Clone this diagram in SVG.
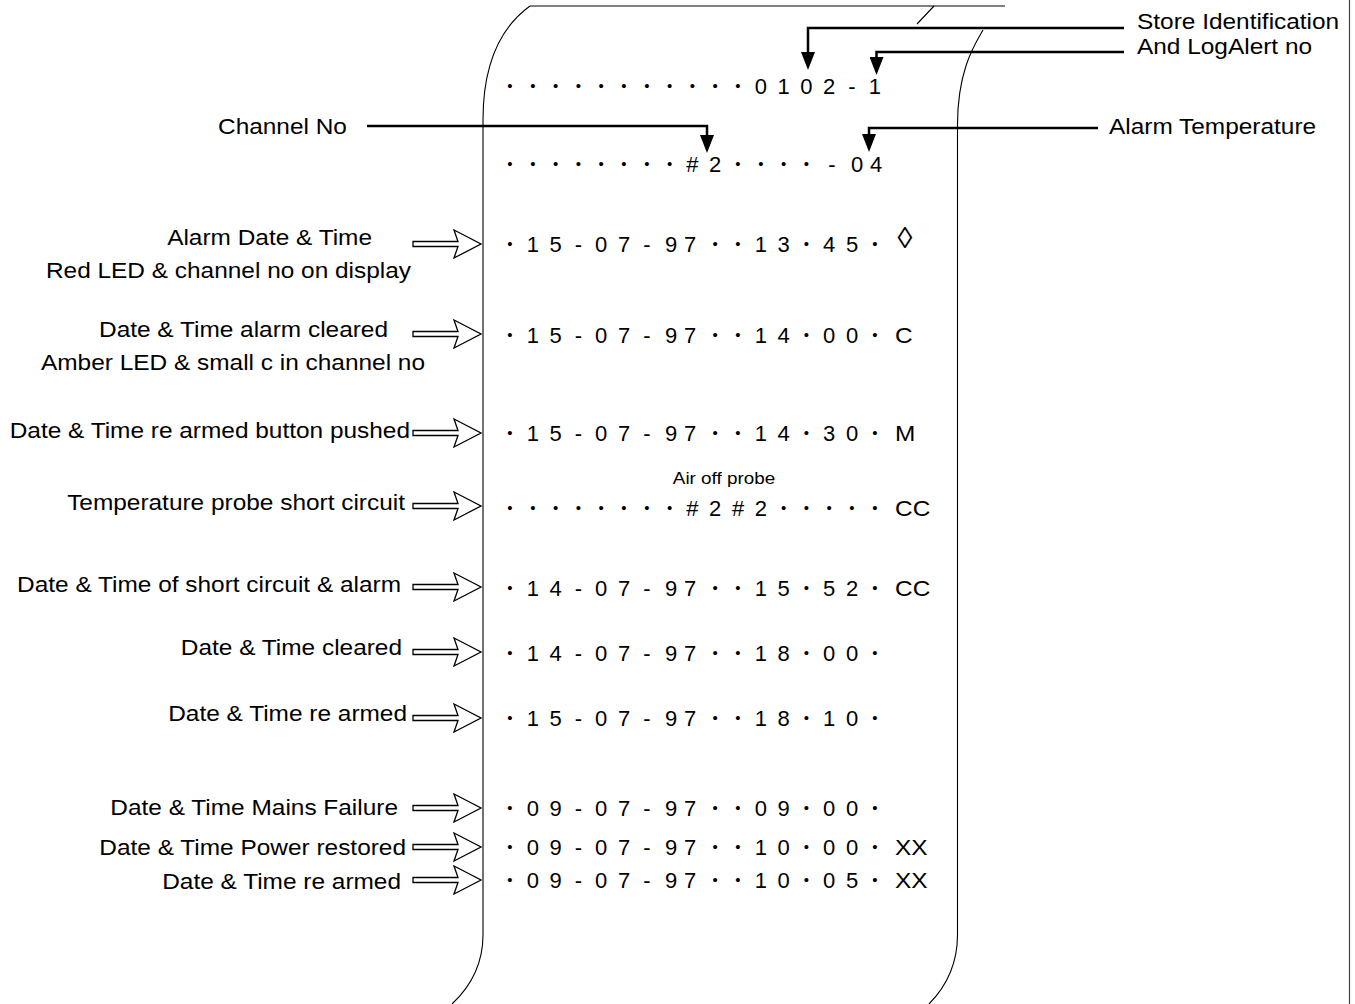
<svg xmlns="http://www.w3.org/2000/svg" xmlns:xlink="http://www.w3.org/1999/xlink" width="1355" height="1004" viewBox="0 0 1355 1004">
<style>
.t{font-family:"Liberation Sans",Arial,sans-serif;font-size:22px;fill:#000}
.p{text-anchor:middle}
.e{text-anchor:end}
.m{text-anchor:middle}
.s{font-size:17px}
.d{font-size:15px}
.paper{fill:none;stroke:#000;stroke-width:1.1}
.lead{fill:none;stroke:#000;stroke-width:2.5}
.ha{fill:#fff;stroke:#000;stroke-width:1.3}
</style>
<defs>
<marker id="ah" markerUnits="userSpaceOnUse" markerWidth="18" markerHeight="14" refX="8" refY="7" orient="auto">
<path d="M0,0 L18,7 L0,14 z" fill="#000"/>
</marker>
<path id="harrow" d="M-68,-2.5 L-23,-2.5 L-27,-14 L0,0 L-27,14 L-23,2.5 L-68,2.5 z"/>
</defs>
<rect width="1355" height="1004" fill="#fff"/>
<g id="paper">
<path class="paper" d="M530,6 H1005"/>
<path class="paper" d="M934,6 L917,24"/>
<path class="paper" d="M530,6 Q483,40 483,120 L483,935 Q483,975 452,1004"/>
<path class="paper" d="M983,30 C975,44 957.5,70 957.5,125 L957.5,935 Q957.5,975 929,1004"/>
<path d="M1349.5,0 V1004" fill="none" stroke="#444" stroke-width="1.2"/>
</g>
<g id="connectors">
<path class="lead" d="M1124,28 H808 V60" marker-end="url(#ah)"/>
<path class="lead" d="M1124,52 H876.5 V65" marker-end="url(#ah)"/>
<path class="lead" d="M367,126 H707 V143" marker-end="url(#ah)"/>
<path class="lead" d="M1098,128 H869 V142" marker-end="url(#ah)"/>
<use xlink:href="#harrow" href="#harrow" class="ha" x="481" y="244"/>
<use xlink:href="#harrow" href="#harrow" class="ha" x="481" y="334"/>
<use xlink:href="#harrow" href="#harrow" class="ha" x="481" y="433"/>
<use xlink:href="#harrow" href="#harrow" class="ha" x="481" y="506"/>
<use xlink:href="#harrow" href="#harrow" class="ha" x="481" y="587"/>
<use xlink:href="#harrow" href="#harrow" class="ha" x="481" y="652"/>
<use xlink:href="#harrow" href="#harrow" class="ha" x="481" y="718"/>
<use xlink:href="#harrow" href="#harrow" class="ha" x="481" y="808"/>
<use xlink:href="#harrow" href="#harrow" class="ha" x="481" y="847"/>
<use xlink:href="#harrow" href="#harrow" class="ha" x="481" y="880"/>
</g>
<g id="callouts">
<text class="t" transform="translate(1137,29) scale(1.11,1)">Store Identification</text>
<text class="t" transform="translate(1137,54) scale(1.11,1)">And LogAlert no</text>
<text class="t" transform="translate(218,134) scale(1.11,1)">Channel No</text>
<text class="t" transform="translate(1109,134) scale(1.11,1)">Alarm Temperature</text>
</g>
<g id="labels">
<text class="t e" transform="translate(372,245) scale(1.11,1)">Alarm Date &amp; Time</text>
<text class="t e" transform="translate(411,278) scale(1.11,1)">Red LED &amp; channel no on display</text>
<text class="t e" transform="translate(388,337) scale(1.11,1)">Date &amp; Time alarm cleared</text>
<text class="t e" transform="translate(425,370) scale(1.11,1)">Amber LED &amp; small c in channel no</text>
<text class="t e" transform="translate(410,438) scale(1.11,1)">Date &amp; Time re armed button pushed</text>
<text class="t e" transform="translate(405,510) scale(1.11,1)">Temperature probe short circuit</text>
<text class="t e" transform="translate(401,592) scale(1.11,1)">Date &amp; Time of short circuit &amp; alarm</text>
<text class="t e" transform="translate(402,655) scale(1.11,1)">Date &amp; Time cleared</text>
<text class="t e" transform="translate(407,721) scale(1.11,1)">Date &amp; Time re armed</text>
<text class="t e" transform="translate(398,815) scale(1.11,1)">Date &amp; Time Mains Failure</text>
<text class="t e" transform="translate(406,855) scale(1.11,1)">Date &amp; Time Power restored</text>
<text class="t e" transform="translate(401,889) scale(1.11,1)">Date &amp; Time re armed</text>
</g>
<g id="printout">
<text id="line-1" class="t p"><tspan class="d" y="90.5" x="510 532.8 555.6 578.4 601.2 624 646.8 669.6 692.4 715.2 738">•••••••••••</tspan><tspan y="94" x="760.8 783.6 806.4 829.2 852 874.8">0102-1</tspan></text>
<text id="line-2" class="t p"><tspan class="d" y="168.5" x="510 532.8 555.6 578.4 601.2 624 646.8 669.6">••••••••</tspan><tspan y="172" x="692.4 715.2">#2</tspan><tspan class="d" y="168.5" x="738 760.8 783.6 806.4">••••</tspan><tspan y="172" x="832 857 876">-04</tspan></text>
<text id="line-3" class="t p"><tspan class="d" y="248.5" x="510">•</tspan><tspan y="252" x="532.8 555.6 578.4 601.2 624 646.8 671 690">15-07-97</tspan><tspan class="d" y="248.5" x="715.2 738">••</tspan><tspan y="252" x="760.8 783.6">13</tspan><tspan class="d" y="248.5" x="806.4">•</tspan><tspan y="252" x="829.2 852">45</tspan><tspan class="d" y="248.5" x="874.8">•</tspan><tspan style="font-size:30px" x="905" y="248">◊</tspan></text>
<g id="line-4">
<text class="t p"><tspan class="d" y="339.5" x="510">•</tspan><tspan y="343" x="532.8 555.6 578.4 601.2 624 646.8 671 690">15-07-97</tspan><tspan class="d" y="339.5" x="715.2 738">••</tspan><tspan y="343" x="760.8 783.6">14</tspan><tspan class="d" y="339.5" x="806.4">•</tspan><tspan y="343" x="829.2 852">00</tspan><tspan class="d" y="339.5" x="874.8">•</tspan></text>
<text class="t" transform="translate(895,343) scale(1.11,1)">C</text>
</g>
<g id="line-5">
<text class="t p"><tspan class="d" y="437.5" x="510">•</tspan><tspan y="441" x="532.8 555.6 578.4 601.2 624 646.8 671 690">15-07-97</tspan><tspan class="d" y="437.5" x="715.2 738">••</tspan><tspan y="441" x="760.8 783.6">14</tspan><tspan class="d" y="437.5" x="806.4">•</tspan><tspan y="441" x="829.2 852">30</tspan><tspan class="d" y="437.5" x="874.8">•</tspan></text>
<text class="t" transform="translate(895,441) scale(1.11,1)">M</text>
</g>
<g id="line-6">
<text class="t s m" transform="translate(724,484) scale(1.11,1)">Air off probe</text>
<text class="t p"><tspan class="d" y="512.5" x="510 532.8 555.6 578.4 601.2 624 646.8 669.6">••••••••</tspan><tspan y="516" x="692.4 715.2 738 760.8">#2#2</tspan><tspan class="d" y="512.5" x="783.6 806.4 829.2 852 874.8">•••••</tspan></text>
<text class="t" transform="translate(895,516) scale(1.11,1)">CC</text>
</g>
<g id="line-7">
<text class="t p"><tspan class="d" y="592.5" x="510">•</tspan><tspan y="596" x="532.8 555.6 578.4 601.2 624 646.8 671 690">14-07-97</tspan><tspan class="d" y="592.5" x="715.2 738">••</tspan><tspan y="596" x="760.8 783.6">15</tspan><tspan class="d" y="592.5" x="806.4">•</tspan><tspan y="596" x="829.2 852">52</tspan><tspan class="d" y="592.5" x="874.8">•</tspan></text>
<text class="t" transform="translate(895,596) scale(1.11,1)">CC</text>
</g>
<text id="line-8" class="t p"><tspan class="d" y="657.5" x="510">•</tspan><tspan y="661" x="532.8 555.6 578.4 601.2 624 646.8 671 690">14-07-97</tspan><tspan class="d" y="657.5" x="715.2 738">••</tspan><tspan y="661" x="760.8 783.6">18</tspan><tspan class="d" y="657.5" x="806.4">•</tspan><tspan y="661" x="829.2 852">00</tspan><tspan class="d" y="657.5" x="874.8">•</tspan></text>
<text id="line-9" class="t p"><tspan class="d" y="722.5" x="510">•</tspan><tspan y="726" x="532.8 555.6 578.4 601.2 624 646.8 671 690">15-07-97</tspan><tspan class="d" y="722.5" x="715.2 738">••</tspan><tspan y="726" x="760.8 783.6">18</tspan><tspan class="d" y="722.5" x="806.4">•</tspan><tspan y="726" x="829.2 852">10</tspan><tspan class="d" y="722.5" x="874.8">•</tspan></text>
<text id="line-10" class="t p"><tspan class="d" y="812.5" x="510">•</tspan><tspan y="816" x="532.8 555.6 578.4 601.2 624 646.8 671 690">09-07-97</tspan><tspan class="d" y="812.5" x="715.2 738">••</tspan><tspan y="816" x="760.8 783.6">09</tspan><tspan class="d" y="812.5" x="806.4">•</tspan><tspan y="816" x="829.2 852">00</tspan><tspan class="d" y="812.5" x="874.8">•</tspan></text>
<g id="line-11">
<text class="t p"><tspan class="d" y="851.5" x="510">•</tspan><tspan y="855" x="532.8 555.6 578.4 601.2 624 646.8 671 690">09-07-97</tspan><tspan class="d" y="851.5" x="715.2 738">••</tspan><tspan y="855" x="760.8 783.6">10</tspan><tspan class="d" y="851.5" x="806.4">•</tspan><tspan y="855" x="829.2 852">00</tspan><tspan class="d" y="851.5" x="874.8">•</tspan></text>
<text class="t" transform="translate(895,855) scale(1.11,1)">XX</text>
</g>
<g id="line-12">
<text class="t p"><tspan class="d" y="884.5" x="510">•</tspan><tspan y="888" x="532.8 555.6 578.4 601.2 624 646.8 671 690">09-07-97</tspan><tspan class="d" y="884.5" x="715.2 738">••</tspan><tspan y="888" x="760.8 783.6">10</tspan><tspan class="d" y="884.5" x="806.4">•</tspan><tspan y="888" x="829.2 852">05</tspan><tspan class="d" y="884.5" x="874.8">•</tspan></text>
<text class="t" transform="translate(895,888) scale(1.11,1)">XX</text>
</g>
</g>
</svg>
